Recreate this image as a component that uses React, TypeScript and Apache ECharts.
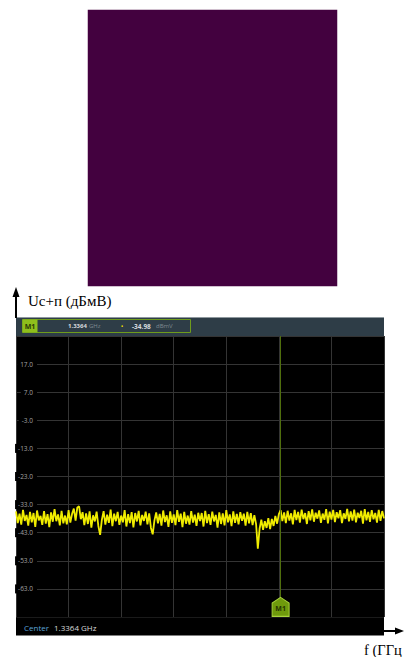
import React, { useEffect, useRef } from "react";
import * as echarts from "echarts";

// Purple block (single-cell heatmap)
const heatCols = ["c0"];
const heatRows = ["r0"];
const heatData = [[0, 0, 1]];
const heatColor = "#43013f";

// Spectrum trace, dBmV (211 sweep points)
const traceValues = [
  -35.4, -39.6, -36.2, -40.1, -34.9, -38.8, -36.7, -40.5, -35.6, -39.3,
  -36.0, -40.9, -35.1, -38.6, -37.0, -40.2, -35.3, -39.8, -36.4, -41.0,
  -35.8, -39.1, -34.6, -38.9, -36.5, -40.4, -35.2, -39.7, -36.9, -40.0,
  -35.0, -39.4, -36.3, -34.4, -38.7, -34.0, -33.6, -38.2, -35.7, -40.3,
  -36.1, -39.9, -35.4, -41.2, -36.8, -39.0, -35.5, -40.6, -43.8, -38.4,
  -35.3, -40.1, -36.6, -39.5, -34.8, -40.7, -36.2, -38.9, -35.6, -40.2,
  -36.9, -39.3, -35.0, -40.8, -36.4, -39.6, -35.7, -41.1, -36.0, -39.0,
  -35.2, -40.4, -36.7, -38.8, -35.5, -40.0, -36.1, -41.3, -43.6, -38.6,
  -35.8, -39.7, -36.3, -40.5, -35.1, -39.2, -36.8, -40.9, -35.4, -39.5,
  -36.5, -40.3, -35.0, -39.1, -36.2, -41.0, -35.6, -39.8, -36.9, -40.1,
  -35.3, -39.4, -36.6, -40.6, -35.9, -38.9, -36.0, -40.8, -35.2, -39.6,
  -36.4, -40.2, -35.5, -39.0, -36.7, -41.2, -35.8, -39.9, -36.1, -40.4,
  -35.0, -39.3, -36.5, -40.7, -35.4, -39.5, -36.3, -40.0, -35.7, -38.8,
  -36.2, -40.5, -35.6, -39.7, -36.0, -40.3, -36.8, -39.9, -48.7, -41.6,
  -38.4, -42.0, -38.9, -41.3, -37.8, -41.7, -38.1, -40.6, -37.0, -39.8,
  -36.4, -35.0, -38.9, -35.8, -39.6, -35.2, -38.7, -36.1, -40.0, -34.9,
  -38.5, -35.6, -39.4, -34.8, -38.2, -36.0, -39.9, -35.3, -38.6, -34.7,
  -39.1, -35.9, -38.0, -35.1, -39.5, -36.2, -38.4, -34.6, -39.7, -35.5,
  -38.3, -34.9, -39.2, -35.7, -37.9, -35.0, -39.6, -36.1, -38.1, -34.5,
  -39.0, -35.4, -38.7, -34.8, -39.3, -35.9, -37.8, -35.2, -39.8, -34.6,
  -38.6, -35.6, -39.1, -35.0, -38.2, -36.0, -39.4, -34.9, -38.8, -35.3,
  -37.9,
];

const yMin = -73;
const yMax = 27;
const yStep = 10;
const xStep = 30;

const markerIndex = 151;
const markerTop = yMax;
const markerLineEnd = -66.1;
const markerBadge = -69.4;
const markerName = "M1";
const markerFreq = "1.3364";
const markerFreqUnit = "GHz";
const markerLevel = "-34.98";
const markerLevelUnit = "dBmV";
const centerLabel = "Center";
const centerFreq = "1.3364 GHz";
const yTitle = "Uc+п (дБмВ)";
const xTitle = "f (ГГц";

const smallFont = "Open Sans";

function txt(x: number, y: number, text: string, extra: any = {}, z = 120) {
  const align = extra.align || "left";
  const va = extra.verticalAlign || "middle";
  return {
    type: "text",
    x,
    y,
    z,
    style: {
      text,
      align,
      textAlign: align,
      verticalAlign: va,
      textVerticalAlign: va,
      fontFamily: smallFont,
      ...extra,
    },
  };
}

export default function App() {
  const ref = useRef<HTMLDivElement>(null);

  useEffect(() => {
    const chart = echarts.init(ref.current!, null, { renderer: "svg" });
    const option: any = {
      animation: false,
      backgroundColor: "#ffffff",
      grid: [
        { left: 88, top: 10, width: 249, height: 276, show: false },
        {
          left: 16,
          top: 336,
          width: 368,
          height: 281,
          show: true,
          backgroundColor: "#000000",
          borderWidth: 0,
        },
      ],
      xAxis: [
        { gridIndex: 0, type: "category", data: heatCols, show: false },
        {
          gridIndex: 1,
          type: "value",
          min: 0,
          max: traceValues.length - 1,
          interval: xStep,
          axisLine: { show: false },
          axisTick: { show: false },
          axisLabel: { show: false },
          splitLine: { show: true, lineStyle: { color: "#343434", width: 1 } },
        },
      ],
      yAxis: [
        { gridIndex: 0, type: "category", data: heatRows, show: false },
        {
          gridIndex: 1,
          type: "value",
          min: yMin,
          max: yMax,
          interval: yStep,
          axisLine: { show: false },
          axisTick: { show: false },
          axisLabel: {
            inside: true,
            margin: 21,
            align: "right",
            verticalAlign: "middle",
            color: "#a3a3a3",
            fontSize: 6.5,
            fontFamily: smallFont,
            showMinLabel: false,
            showMaxLabel: false,
            backgroundColor: "#000000",
            padding: [1, 4, 1, 3],
            formatter: (v: number) => v.toFixed(1),
          },
          splitLine: { show: true, lineStyle: { color: "#343434", width: 1 } },
        },
      ],
      visualMap: {
        show: false,
        seriesIndex: 0,
        min: 0,
        max: 1,
        inRange: { color: [heatColor, heatColor] },
      },
      series: [
        {
          type: "heatmap",
          xAxisIndex: 0,
          yAxisIndex: 0,
          data: heatData,
          silent: true,
        },
        {
          type: "line",
          xAxisIndex: 1,
          yAxisIndex: 1,
          data: traceValues.map((v, i) => [i, v]),
          symbol: "none",
          showSymbol: false,
          silent: true,
          z: 3,
          lineStyle: { color: "#f0ec00", width: 1.8 },
          markLine: {
            silent: true,
            symbol: ["none", "none"],
            label: { show: false },
            lineStyle: { color: "#4f6e0c", width: 1, type: "solid" },
            data: [
              [
                { coord: [markerIndex, markerTop] },
                { coord: [markerIndex, markerLineEnd] },
              ],
            ],
          },
          markPoint: {
            silent: true,
            data: [
              {
                coord: [markerIndex, markerBadge],
                symbol: "path://M9,0 L18,6 L18,20 L0,20 L0,6 Z",
                symbolSize: [17, 19],
                itemStyle: {
                  color: "#6f9a0c",
                  borderColor: "#a9d43c",
                  borderWidth: 1,
                },
                label: {
                  show: true,
                  position: "inside",
                  formatter: markerName,
                  color: "#263300",
                  fontSize: 7,
                  fontWeight: "bold",
                  fontFamily: smallFont,
                  offset: [0, 2],
                },
              },
            ],
          },
        },
      ],
      graphic: [
        // header bar
        { type: "rect", z: 100, shape: { x: 16, y: 317, width: 368, height: 19 }, style: { fill: "#2e3d47" } },
        { type: "line", z: 101, shape: { x1: 16, y1: 317.5, x2: 384, y2: 317.5 }, style: { stroke: "#8e989d", lineWidth: 1 } },
        { type: "rect", z: 101, shape: { x: 22.5, y: 319.5, width: 168, height: 13 }, style: { fill: "none", stroke: "#6f9c1c", lineWidth: 1 } },
        { type: "rect", z: 102, shape: { x: 22.5, y: 319.5, width: 15, height: 13 }, style: { fill: "#8fbf1c" } },
        txt(30, 326, markerName, { align: "center", fill: "#2c3a05", fontSize: 7, fontWeight: "bold" }),
        txt(68, 326, markerFreq, { fill: "#d6dadc", fontSize: 6, fontWeight: "bold" }),
        txt(89, 326, markerFreqUnit, { fill: "#7f8b91", fontSize: 6 }),
        txt(122, 326, "•", { align: "center", fill: "#e6d600", fontSize: 7 }),
        txt(132, 326, markerLevel, { fill: "#d6dadc", fontSize: 6.5, fontWeight: "bold" }),
        txt(156, 326, markerLevelUnit, { fill: "#7f8b91", fontSize: 6 }),
        // bottom bar
        { type: "rect", z: 100, shape: { x: 16, y: 617.5, width: 368, height: 18 }, style: { fill: "#000000" } },
        txt(24, 627.5, centerLabel, { fill: "#5ba3d6", fontSize: 8 }),
        txt(54, 627.5, centerFreq, { fill: "#d9d9d9", fontSize: 8 }),
        // axis arrows
        { type: "line", z: 110, shape: { x1: 16, y1: 296, x2: 16, y2: 318 }, style: { stroke: "#000", lineWidth: 2 } },
        { type: "polygon", z: 110, shape: { points: [[16, 287], [12.5, 297], [19.5, 297]] }, style: { fill: "#000" } },
        { type: "line", z: 110, shape: { x1: 384, y1: 631, x2: 397, y2: 631 }, style: { stroke: "#000", lineWidth: 2 } },
        { type: "polygon", z: 110, shape: { points: [[404, 631], [395, 627.5], [395, 634.5]] }, style: { fill: "#000" } },
        // axis titles
        txt(28, 301, yTitle, { fill: "#000", fontSize: 15, fontFamily: "Liberation Serif" }),
        txt(364, 650, xTitle, { fill: "#000", fontSize: 14.5, fontFamily: "Liberation Serif" }),
      ],
    };
    chart.setOption(option);
    return () => chart.dispose();
  }, []);

  return (
    <div
      ref={ref}
      style={{ position: "absolute", left: 0, top: 0, width: 404, height: 657 }}
    />
  );
}
